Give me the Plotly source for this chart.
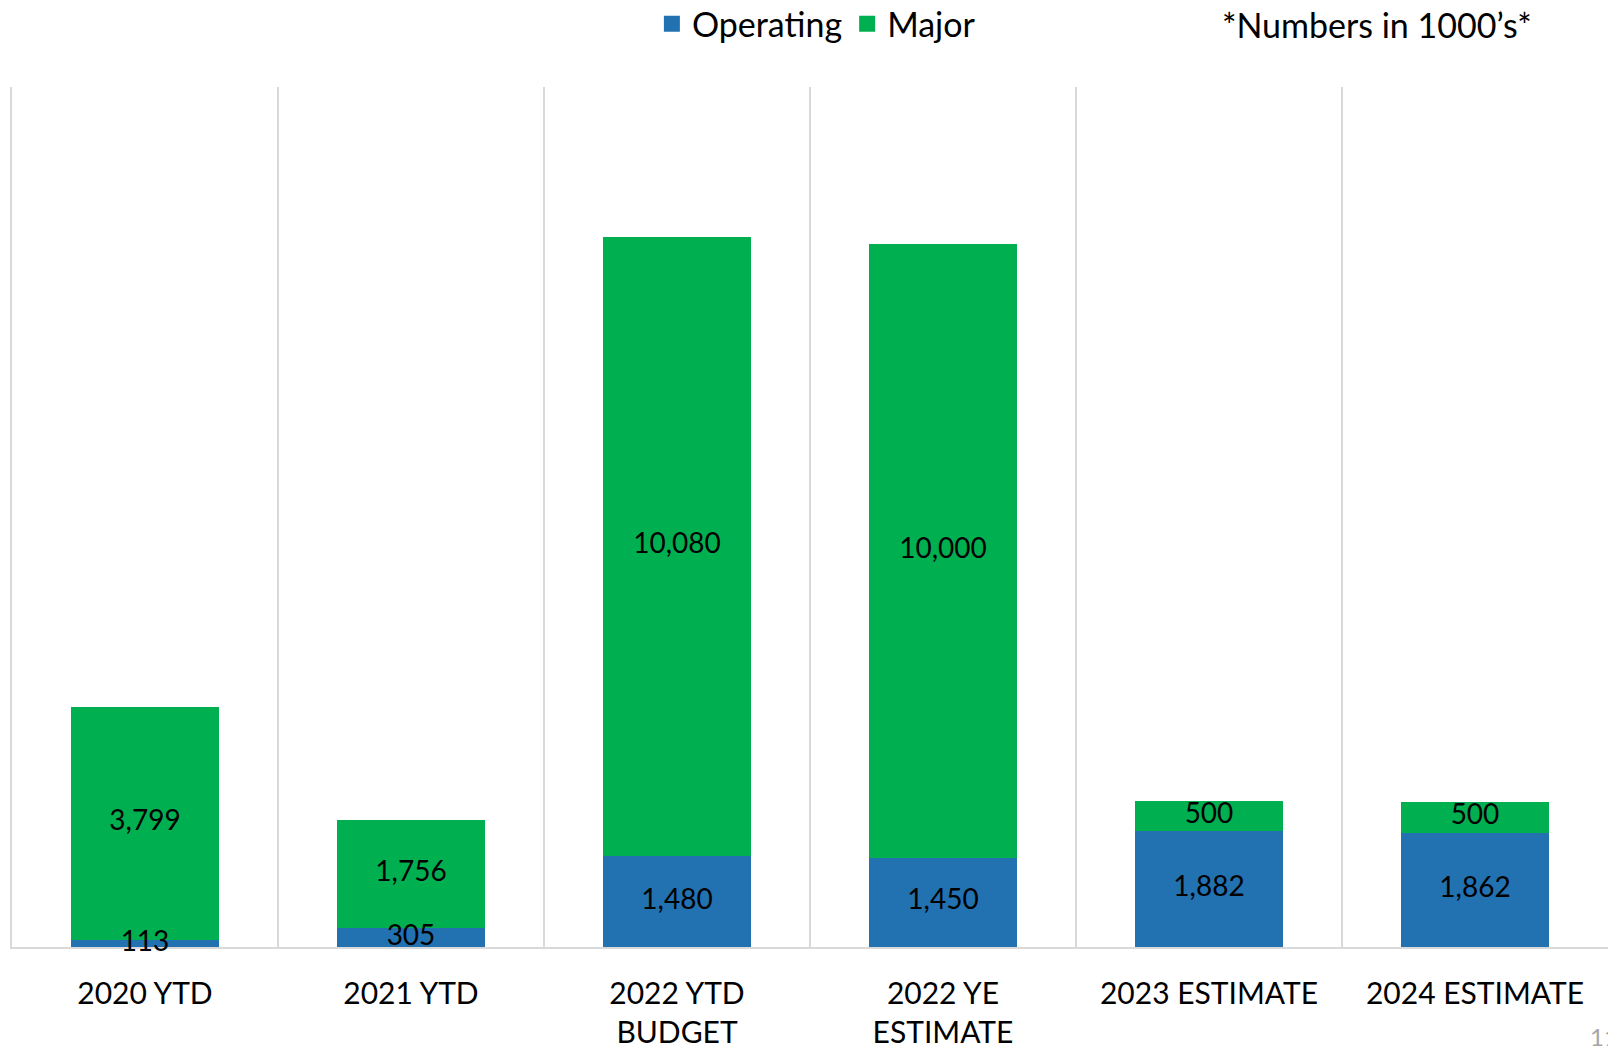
import plotly.graph_objects as go

categories = ["2020 YTD", "2021 YTD", "2022 YTD<br>BUDGET", "2022 YE<br>ESTIMATE",
              "2023 ESTIMATE", "2024 ESTIMATE"]
operating = [113, 305, 1480, 1450, 1882, 1862]
major = [3799, 1756, 10080, 10000, 500, 500]

BLUE = "#2271B1"
GREEN = "#00B050"
GRID = "#D9D9D9"
FONT = "Lato"

def fmt(v):
    return f"{v:,}"

fig = go.Figure()
for name, vals, col in [("Operating", operating, BLUE), ("Major", major, GREEN)]:
    fig.add_trace(go.Bar(
        x=categories, y=vals, name=name, marker=dict(color=col, line=dict(width=0)),
        width=0.56, showlegend=False, hoverinfo="skip"))

# value labels drawn on top of all bars, centred in each segment
lab_x = categories + categories
lab_y = [o / 2 for o in operating] + [o + m / 2 for o, m in zip(operating, major)]
lab_t = [fmt(v) for v in operating] + [fmt(v) for v in major]
fig.add_trace(go.Scatter(
    x=lab_x, y=lab_y, text=lab_t, mode="text", textposition="middle center",
    textfont=dict(family=FONT, size=28, color="black"), showlegend=False,
    hoverinfo="skip", cliponaxis=False))

# legend entries with larger square swatches
for name, col in [("Operating", BLUE), ("Major", GREEN)]:
    fig.add_trace(go.Scatter(
        x=[categories[0]], y=[None], mode="markers", name=name,
        marker=dict(symbol="square", size=20, color=col), showlegend=True))

fig.update_layout(
    width=1608, height=1048, barmode="stack",
    margin=dict(l=12, r=0, t=87, b=101, autoexpand=False),
    plot_bgcolor="white", paper_bgcolor="white",
    font=dict(family=FONT, color="black"),
    legend=dict(orientation="h", x=0.504, xanchor="center", y=1.073, yanchor="middle",
                font=dict(family=FONT, size=34, color="black"), traceorder="normal",
                itemsizing="trace", bgcolor="rgba(0,0,0,0)"),
    xaxis=dict(type="category", showgrid=True, gridcolor=GRID, gridwidth=1.5,
               tickson="boundaries", ticks="", showline=True, linecolor=GRID, linewidth=1.5,
               tickfont=dict(family=FONT, size=30, color="black"), ticklabelstandoff=19,
               layer="below traces", fixedrange=True),
    yaxis=dict(range=[0, 14000], showgrid=False, zeroline=False, showticklabels=False,
               showline=True, linecolor=GRID, linewidth=1.5, layer="below traces",
               fixedrange=True),
    annotations=[
        dict(text="*Numbers in 1000\u2019s*", xref="paper", yref="paper", x=0.855, y=1.073,
             xanchor="center", yanchor="middle", showarrow=False,
             font=dict(family=FONT, size=34, color="black")),
        dict(text="11", xref="paper", yref="paper", x=0.9875, y=-0.1035,
             xanchor="left", yanchor="middle", showarrow=False,
             font=dict(family=FONT, size=24, color="#A6A6A6")),
    ],
)

fig.write_html("out.html")
